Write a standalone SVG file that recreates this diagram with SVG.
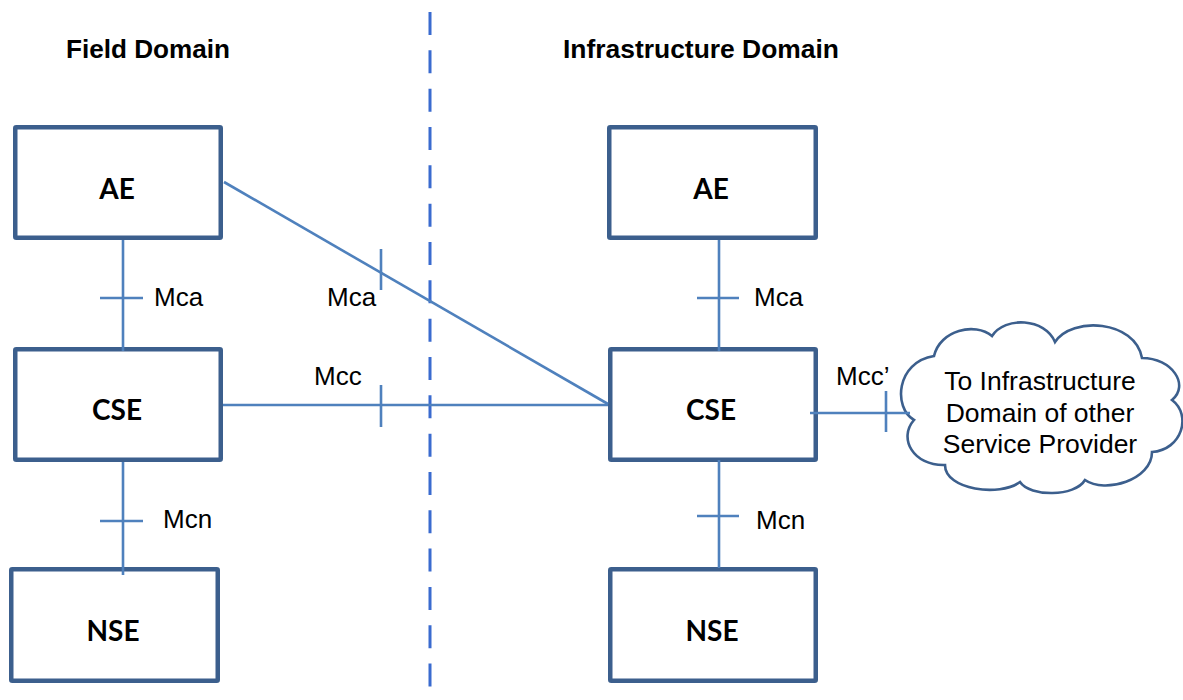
<svg xmlns="http://www.w3.org/2000/svg" width="1183" height="700" viewBox="0 0 1183 700">
<style>
.box{fill:#ffffff;stroke:#3c5f8d;stroke-width:4.5;stroke-linejoin:round}
.lbl{font-family:Lato,"Open Sans","Liberation Sans",sans-serif;font-weight:700;font-size:28px;fill:#000;text-anchor:middle}
.if{font-family:"Liberation Sans",Arial,sans-serif;font-size:26px;fill:#000}
.ct{font-family:"Liberation Sans",Arial,sans-serif;font-size:26.5px;fill:#000;text-anchor:middle}
.title{font-family:"Liberation Sans",Arial,sans-serif;font-weight:700;font-size:26px;fill:#000}
.con{stroke:#4f81bd;stroke-width:2.6;fill:none}
.divider{stroke:#3a6bcf;stroke-width:3;stroke-dasharray:23 15.33;fill:none}
.cloud{fill:#ffffff;stroke:#3c5f8d;stroke-width:2.6}
</style>
<rect width="1183" height="700" fill="#ffffff"/>
<g id="titles">
<text class="title" x="66" y="58" textLength="164" lengthAdjust="spacingAndGlyphs">Field Domain</text>
<text class="title" x="563" y="58" textLength="276" lengthAdjust="spacingAndGlyphs">Infrastructure Domain</text>
</g>
<g id="divider">
<line class="divider" x1="430" y1="12" x2="430" y2="688"/>
</g>
<g id="field-ae"><rect class="box" x="15.25" y="127.25" width="205.5" height="110.5" rx="1"/><text class="lbl" x="117" y="199">AE</text></g>
<g id="field-cse"><rect class="box" x="15.25" y="349.25" width="205.5" height="110.5" rx="1"/><text class="lbl" x="117" y="420">CSE</text></g>
<g id="field-nse"><rect class="box" x="11.25" y="569.25" width="206.5" height="111.5" rx="1"/><text class="lbl" x="113" y="641">NSE</text></g>
<g id="infra-ae"><rect class="box" x="609.25" y="127.25" width="206.5" height="110.5" rx="1"/><text class="lbl" x="711" y="199">AE</text></g>
<g id="infra-cse"><rect class="box" x="610.25" y="349.25" width="205.5" height="110.5" rx="1"/><text class="lbl" x="711" y="420">CSE</text></g>
<g id="infra-nse"><rect class="box" x="610.25" y="569.25" width="205.5" height="111.5" rx="1"/><text class="lbl" x="712" y="641">NSE</text></g>
<g id="cloud">
<path class="cloud" d="M914,420 C893,408 896,362 934,356 C940,330 975,322 992,336 C1005,316 1045,318 1055,342 C1072,316 1135,320 1142,358 C1172,358 1190,385 1172,400 C1192,415 1182,450 1152,452 C1152,480 1105,494 1085,480 C1075,497 1030,497 1020,482 C1000,497 945,490 945,465 C913,466 898,438 914,420 Z"/>
<text class="ct" x="1040" y="390">To Infrastructure</text>
<text class="ct" x="1040" y="422">Domain of other</text>
<text class="ct" x="1040" y="453">Service Provider</text>
</g>
<g id="connectors">
<line class="con" x1="123" y1="240" x2="123" y2="351"/>
<line class="con" x1="100" y1="298" x2="143" y2="298"/>
<line class="con" x1="224" y1="182" x2="608" y2="404"/>
<line class="con" x1="381" y1="249" x2="381" y2="290"/>
<line class="con" x1="223" y1="405" x2="608" y2="405"/>
<line class="con" x1="381" y1="385" x2="381" y2="427"/>
<line class="con" x1="123" y1="462" x2="123" y2="575"/>
<line class="con" x1="100" y1="521" x2="143" y2="521"/>
<line class="con" x1="719" y1="240" x2="719" y2="351"/>
<line class="con" x1="697" y1="298" x2="739" y2="298"/>
<line class="con" x1="719" y1="460" x2="719" y2="568"/>
<line class="con" x1="697" y1="516" x2="739" y2="516"/>
<line class="con" x1="810" y1="413" x2="910" y2="413"/>
<line class="con" x1="886" y1="391" x2="886" y2="432"/>
<text class="if" x="154" y="306">Mca</text>
<text class="if" x="327" y="306">Mca</text>
<text class="if" x="314" y="385">Mcc</text>
<text class="if" x="163" y="528">Mcn</text>
<text class="if" x="754" y="306">Mca</text>
<text class="if" x="756" y="529">Mcn</text>
<text class="if" x="836" y="385">Mcc’</text>
</g>
</svg>
